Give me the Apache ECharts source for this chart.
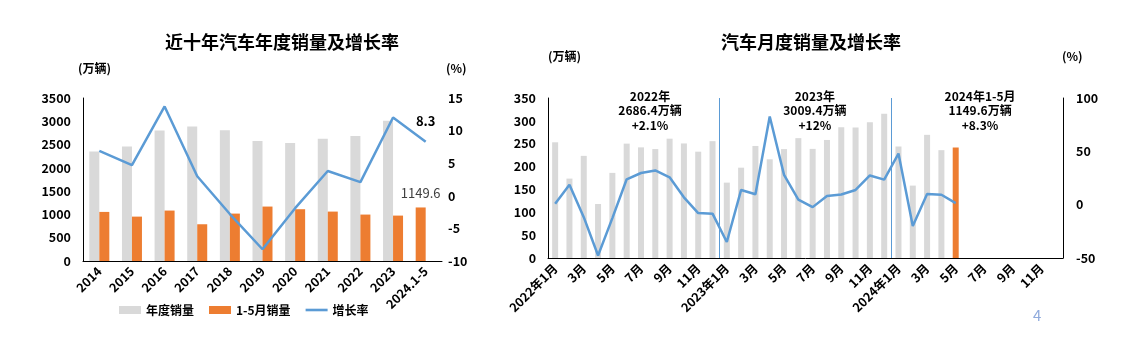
<!DOCTYPE html>
<html><head><meta charset="utf-8">
<script src="https://cdn.jsdelivr.net/npm/echarts@6/dist/echarts.min.js"></script>
<style>html,body{margin:0;padding:0;background:#fff}#c{width:1124px;height:354px}</style>
</head><body><div id="c"></div>
<script>
// ---- Left chart data ----
const yearCats = ['2014','2015','2016','2017','2018','2019','2020','2021','2022','2023','2024.1-5'];
const annualSales = [2349.2, 2459.8, 2802.8, 2887.9, 2808.1, 2576.9, 2531.1, 2627.5, 2686.4, 3009.4, 1149.6];
const janMaySales = [1054, 953, 1083, 789, 1018, 1169, 1112, 1061, 997, 975, null];
const annualGrowth = [6.9, 4.7, 13.7, 3.0, -2.8, -8.2, -1.9, 3.8, 2.1, 12.0, 8.3];
const leftTicksSales = [0, 3500, 500];
const leftTicksRate = [-10, 15, 5];

// ---- Right chart data ----
const monthCats = [
  '2022年1月','2月','3月','4月','5月','6月','7月','8月','9月','10月','11月','12月',
  '2023年1月','2月','3月','4月','5月','6月','7月','8月','9月','10月','11月','12月',
  '2024年1月','2月','3月','4月','5月','6月','7月','8月','9月','10月','11月','12月'];
const monthSales = [
  253.1, 173.7, 223.4, 118.1, 186.2, 250.2, 242.0, 238.3, 261.0, 250.6, 232.6, 255.6,
  164.9, 197.6, 245.1, 215.9, 238.2, 262.2, 238.7, 258.2, 285.8, 285.3, 297.0, 315.6,
  243.9, 158.4, 269.4, 235.9, 241.7, null, null, null, null, null, null, null];
const monthGrowth = [
  0.9, 18.7, -11.7, -47.6, -12.6, 23.8, 29.7, 32.1, 25.7, 6.9, -7.9, -8.4,
  -35.0, 13.8, 9.7, 82.7, 27.9, 4.8, -2.3, 8.2, 9.5, 13.8, 27.4, 23.5,
  47.9, -19.9, 9.9, 9.3, 1.5, null, null, null, null, null, null, null];
const highlightIndex = 28; // 2024年5月
const yearSeparators = [12, 24];
const yearNotes = [
  {text: '2022年\n2686.4万辆\n+2.1%', cat: 7.13},
  {text: '2023年\n3009.4万辆\n+12%', cat: 18.66},
  {text: '2024年1-5月\n1149.6万辆\n+8.3%', cat: 30.2}
];

const GREY = '#d9d9d9', ORANGE = '#ed7d31', BLUE = '#5b9bd5';
const FONT = '"Noto Sans CJK SC", "Noto Sans", sans-serif';
const axisLbl = {color: '#000', fontWeight: 'bold', fontSize: 12.5, fontFamily: FONT};

const chart = echarts.init(document.getElementById('c'), null, {renderer: 'canvas'});

const rightGrid = {left: 548, top: 98, width: 515, height: 160};
const noteGraphics = yearNotes.map(n => ({
  type: 'text',
  x: rightGrid.left + rightGrid.width * n.cat / monthCats.length,
  y: 89,
  style: {text: n.text, font: 'bold 12px ' + FONT, fill: '#000', align: 'center', verticalAlign: 'top', lineHeight: 14.5}
}));
const lastIdx = yearCats.length - 1;

chart.setOption({
  animation: false,
  textStyle: {fontFamily: FONT},
  title: [
    {text: '近十年汽车年度销量及增长率', left: 277, top: 28, textAlign: 'center',
     textStyle: {fontSize: 18, fontWeight: 'bold', color: '#000', fontFamily: FONT}},
    {text: '汽车月度销量及增长率', left: 806, top: 28, textAlign: 'center',
     textStyle: {fontSize: 18, fontWeight: 'bold', color: '#000', fontFamily: FONT}}
  ],
  graphic: [
    {type: 'text', left: 78, top: 62, style: {text: '(万辆)', font: 'bold 12px ' + FONT, fill: '#000'}},
    {type: 'text', left: 446, top: 62, style: {text: '(%)', font: 'bold 12px ' + FONT, fill: '#000'}},
    {type: 'text', left: 548, top: 50, style: {text: '(万辆)', font: 'bold 12px ' + FONT, fill: '#000'}},
    {type: 'text', left: 1062, top: 50, style: {text: '(%)', font: 'bold 12px ' + FONT, fill: '#000'}},
    {type: 'text', left: 1033, top: 308, style: {text: '4', font: '15px ' + FONT, fill: '#8faadc'}}
  ].concat(noteGraphics),
  legend: {
    left: 114, top: 299, itemWidth: 22, itemHeight: 8, itemGap: 15,
    textStyle: {fontSize: 12, fontWeight: 'bold', color: '#000', fontFamily: FONT},
    data: [
      {name: '年度销量', icon: 'rect', itemStyle: {color: GREY}},
      {name: '1-5月销量', icon: 'rect', itemStyle: {color: ORANGE}},
      {name: '增长率', icon: 'path://M0,0 H22 V2.6 H0 Z', itemStyle: {color: BLUE, borderWidth: 0}}
    ]
  },
  grid: [
    {left: 83, top: 98, width: 359, height: 163},
    rightGrid
  ],
  xAxis: [
    {type: 'category', gridIndex: 0, data: yearCats,
     axisLine: {lineStyle: {color: '#000', width: 1}}, axisTick: {show: false},
     axisLabel: Object.assign({rotate: 45, interval: 0, margin: 8}, axisLbl)},
    {type: 'category', gridIndex: 1, data: monthCats,
     axisLine: {lineStyle: {color: '#000', width: 1}}, axisTick: {show: false},
     splitLine: {show: true, interval: (i) => yearSeparators.includes(i), lineStyle: {color: BLUE, width: 1}},
     axisLabel: Object.assign({rotate: 45, interval: 1, margin: 8}, axisLbl)}
  ],
  yAxis: [
    {type: 'value', gridIndex: 0, min: leftTicksSales[0], max: leftTicksSales[1], interval: leftTicksSales[2],
     axisLine: {show: true, lineStyle: {color: '#000'}}, splitLine: {show: false},
     axisLabel: Object.assign({margin: 12, formatter: v => String(v)}, axisLbl)},
    {type: 'value', gridIndex: 0, min: leftTicksRate[0], max: leftTicksRate[1], interval: leftTicksRate[2],
     position: 'right', axisLine: {show: false}, splitLine: {show: false}, axisTick: {show: false},
     axisLabel: Object.assign({margin: 6}, axisLbl)},
    {type: 'value', gridIndex: 1, min: 0, max: 350, interval: 50,
     axisLine: {show: true, lineStyle: {color: '#000'}}, splitLine: {show: false},
     axisLabel: Object.assign({margin: 12}, axisLbl)},
    {type: 'value', gridIndex: 1, min: -50, max: 100, interval: 50, position: 'right',
     axisLine: {show: true, lineStyle: {color: '#000'}}, splitLine: {show: false}, axisTick: {show: false},
     axisLabel: Object.assign({margin: 13}, axisLbl)}
  ],
  series: [
    {name: '年度销量', type: 'bar', xAxisIndex: 0, yAxisIndex: 0,
     data: annualSales.map((v, i) => i === lastIdx ?
       {value: v, itemStyle: {color: ORANGE},
        label: {show: true, position: 'top', distance: 8, color: '#404040', fontSize: 13, fontFamily: FONT}} : v),
     barWidth: 10, barGap: '0%', itemStyle: {color: GREY}},
    {name: '1-5月销量', type: 'bar', xAxisIndex: 0, yAxisIndex: 0, data: janMaySales,
     barWidth: 10, barGap: '0%', itemStyle: {color: ORANGE}},
    {name: '增长率', type: 'line', xAxisIndex: 0, yAxisIndex: 1, data: annualGrowth,
     symbol: 'none', lineStyle: {color: BLUE, width: 2.5}, itemStyle: {color: BLUE},
     markPoint: {
       symbol: 'circle', symbolSize: 1, itemStyle: {color: 'rgba(0,0,0,0)'},
       label: {show: true, position: 'top', distance: 14, color: '#000', fontWeight: 'bold', fontSize: 13, fontFamily: FONT, formatter: '{c}'},
       data: [{coord: [yearCats[lastIdx], annualGrowth[lastIdx]], value: annualGrowth[lastIdx]}]
     }},
    {name: '月度销量', type: 'bar', xAxisIndex: 1, yAxisIndex: 2,
     data: monthSales.map((v, i) => i === highlightIndex ? {value: v, itemStyle: {color: ORANGE}} : v),
     barWidth: 6, itemStyle: {color: GREY}},
    {name: '月度增长率', type: 'line', xAxisIndex: 1, yAxisIndex: 3, data: monthGrowth,
     symbol: 'none', lineStyle: {color: BLUE, width: 2.5}, itemStyle: {color: BLUE}}
  ]
});
</script></body></html>
